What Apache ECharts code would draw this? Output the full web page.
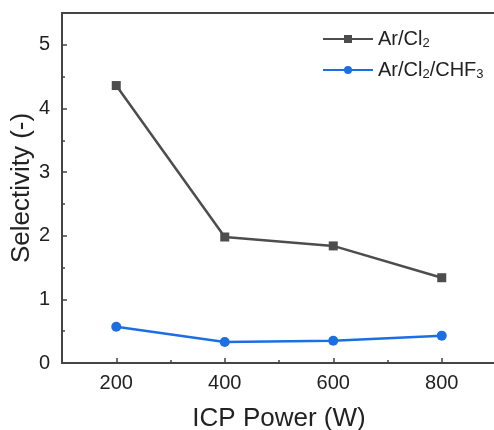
<!DOCTYPE html>
<html>
<head>
<meta charset="utf-8">
<script src="https://cdn.jsdelivr.net/npm/echarts@6/dist/echarts.min.js"></script>
<style>
  html, body { margin: 0; padding: 0; background: #fff; }
  #chart { width: 494px; height: 430px; }
</style>
</head>
<body>
<div id="chart"></div>
<script>
// ICP power (W)
const power = [200, 400, 600, 800]
const arCl2 = [4.36, 1.98, 1.84, 1.34]
const arCl2Chf3 = [0.57, 0.33, 0.35, 0.43]
const xMajor = [200, 400, 600, 800]
const xMinor = [300, 500, 700]
const yMinor = [0.5, 1.5, 2.5, 3.5, 4.5]

const FONT = 'Liberation Sans, Arial, sans-serif'
const GREY = '#4d4d4d'
const BLUE = '#1c6fe3'

const chart = echarts.init(document.getElementById('chart'))

const pairs = (ys) => power.map((x, i) => [x, ys[i]])

const richSub = {
  n: { fontSize: 20, fontFamily: FONT, color: '#222' },
  s: { fontSize: 13, fontFamily: FONT, color: '#222', padding: [9, 0, 0, 0] }
}

chart.setOption({
  animation: false,
  grid: { left: 62, top: 13, right: -2, bottom: 67, outerBoundsMode: 'none', containLabel: false },
  legend: {
    orient: 'vertical',
    left: 317,
    top: 24,
    itemWidth: 50,
    itemHeight: 10,
    itemGap: 10,
    textStyle: { rich: richSub },
    formatter: (name) => name === 'Ar/Cl2'
      ? '{n|Ar/Cl}{s|2}'
      : '{n|Ar/Cl}{s|2}{n|/CHF}{s|3}',
    data: ['Ar/Cl2', 'Ar/Cl2/CHF3']
  },
  xAxis: [
    {
      type: 'value',
      min: 100,
      max: 900,
      name: 'ICP Power (W)',
      nameLocation: 'middle',
      nameGap: 43,
      nameMoveOverlap: false,
      nameTextStyle: { fontSize: 26, fontFamily: FONT, color: '#222' },
      axisLine: { lineStyle: { color: '#444', width: 2 } },
      axisTick: { inside: true, length: 5, customValues: xMajor, lineStyle: { color: '#444', width: 1.5 } },
      axisLabel: { margin: 10, fontSize: 20, fontFamily: FONT, color: '#222', customValues: xMajor },
      splitLine: { show: false }
    },
    {
      // minor ticks
      type: 'value',
      min: 100,
      max: 900,
      position: 'bottom',
      axisLine: { show: false },
      axisTick: { inside: true, length: 3, customValues: xMinor, lineStyle: { color: '#444', width: 1.5 } },
      axisLabel: { show: false },
      splitLine: { show: false }
    },
    {
      // top frame
      type: 'value',
      min: 100,
      max: 900,
      position: 'top',
      axisLine: { lineStyle: { color: '#444', width: 2 } },
      axisTick: { show: false },
      axisLabel: { show: false },
      splitLine: { show: false }
    }
  ],
  yAxis: [
    {
      type: 'value',
      min: 0,
      max: 5.5,
      interval: 1,
      name: 'Selectivity (-)',
      nameLocation: 'middle',
      nameGap: 27,
      nameMoveOverlap: false,
      nameTextStyle: { fontSize: 26, fontFamily: FONT, color: '#222' },
      axisLine: { show: true, lineStyle: { color: '#444', width: 2 } },
      axisTick: { show: true, inside: true, length: 5, lineStyle: { color: '#444', width: 1.5 } },
      axisLabel: { margin: 12, fontSize: 20, fontFamily: FONT, color: '#222', formatter: (v) => v > 5 ? '' : v },
      splitLine: { show: false }
    },
    {
      // minor ticks
      type: 'value',
      min: 0,
      max: 5.5,
      position: 'left',
      axisLine: { show: false },
      axisTick: { show: true, inside: true, length: 3, customValues: yMinor, lineStyle: { color: '#444', width: 1.5 } },
      axisLabel: { show: false },
      splitLine: { show: false }
    }
  ],
  series: [
    {
      name: 'Ar/Cl2',
      type: 'line',
      data: pairs(arCl2),
      symbol: 'rect',
      symbolSize: 9,
      lineStyle: { color: GREY, width: 2.5 },
      itemStyle: { color: GREY }
    },
    {
      name: 'Ar/Cl2/CHF3',
      type: 'line',
      data: pairs(arCl2Chf3),
      symbol: 'circle',
      symbolSize: 10,
      lineStyle: { color: BLUE, width: 2.5 },
      itemStyle: { color: BLUE }
    }
  ]
})
</script>
</body>
</html>
